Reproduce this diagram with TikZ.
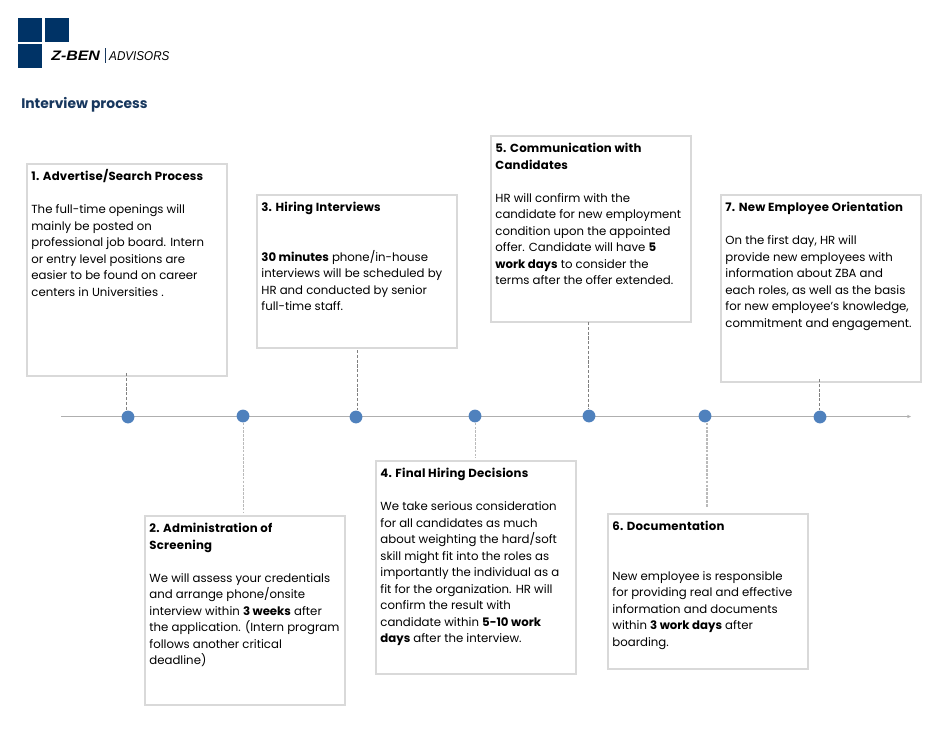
\documentclass[tikz,border=0pt]{standalone}
\usepackage{fontspec}
\usepackage{xcolor}
\setmainfont{Poppins}
\newfontfamily\logofont{Liberation Sans}
\usetikzlibrary{arrows.meta}
\definecolor{zbenBlue}{RGB}{0,51,102}
\definecolor{titleBlue}{RGB}{23,55,94}
\definecolor{dotBlue}{RGB}{79,129,189}
\definecolor{boxGray}{RGB}{217,217,217}
\definecolor{axisGray}{RGB}{175,175,175}
\newcommand{\boxhead}[1]{\textbf{\addfontfeature{LetterSpace=1.8}#1}}
\tikzset{
  stepbox/.style={draw=boxGray,line width=1.25pt,minimum width=150pt,anchor=north west,inner sep=0pt,xshift=-0.5pt,yshift=0.5pt},
  steptext/.style={anchor=north west,align=left,inner xsep=3.6pt,inner ysep=5.6pt,font=\fontsize{8.8}{12.4}\selectfont,text=black},
  stepdot/.style={circle,fill=dotBlue,minimum size=9.6pt,inner sep=0pt},
  leadup/.style={dash pattern=on 2.4pt off 1.2pt,draw=black!50,line width=0.45pt},
  leaddown/.style={dash pattern=on 2pt off 0.9pt,draw=black!27,line width=1pt},
  logosq/.style={fill=zbenBlue,minimum size=17.6pt,inner sep=0pt,anchor=north west},
}
\begin{document}
\begin{tikzpicture}[x=0.75pt,y=-0.75pt]
  \useasboundingbox (0,0) rectangle (944,728);
  % --- logo and heading ---------------------------------------------------
  \foreach \n/\x/\y in {a/18/18, b/45/18, c/18/44} {
     \node[logosq] (logo\n) at (\x,\y) {};
  }
  \node[anchor=west,inner sep=0pt,xscale=1.16,font={\logofont\fontsize{10.3}{10}\selectfont\bfseries\itshape}] (logoname) at (51,56) {Z-BEN};
  \node[anchor=west,inner sep=0pt,xscale=0.91,font={\logofont\fontsize{9.6}{10}\selectfont\itshape}] (logoadv) at (109,56) {ADVISORS};
  \draw[titleBlue,line width=0.4pt] (105.5,48) -- (105.5,63);
  \node[anchor=west,inner sep=0pt,text=titleBlue,font={\fontsize{10.4}{13}\selectfont\bfseries}] (heading) at (21,105) {Interview process};
  % --- the seven boxes ----------------------------------------------------
  \node[stepbox,minimum height=159pt] (box1) at (27,164) {};
  \node[stepbox,minimum height=141.7pt] (box2) at (145,516) {};
  \node[stepbox,minimum height=114.7pt] (box3) at (257,195) {};
  \node[stepbox,minimum height=159.7pt] (box4) at (376,461) {};
  \node[stepbox,minimum height=139.5pt] (box5) at (491,136) {};
  \node[stepbox,minimum height=116.2pt] (box6) at (608,514) {};
  \node[stepbox,minimum height=140.2pt] (box7) at (721,195) {};
  \node[steptext,yshift=1pt] (text1) at (box1.north west) {\boxhead{1. Advertise/Search Process}\\[12.3pt]
    The full-time openings will\\mainly be posted on\\professional job board. Intern\\or entry level positions are\\easier to be found on career\\centers in Universities .};
  \node[steptext] (text2) at (box2.north west) {\boxhead{2. Administration of}\\\boxhead{Screening}\\[12.4pt]
    We will assess your credentials\\and arrange phone/onsite\\interview within \textbf{3 weeks} after\\the application. (Intern program\\follows another critical\\deadline)};
  \node[steptext] (text3) at (box3.north west) {\boxhead{3. Hiring Interviews}\\[24.8pt]
    \textbf{30 minutes} phone/in-house\\interviews will be scheduled by\\HR and conducted by senior\\full-time staff.};
  \node[steptext] (text4) at (box4.north west) {\boxhead{4. Final Hiring Decisions}\\[12.4pt]
    We take serious consideration\\for all candidates as much\\about weighting the hard/soft\\skill might fit into the roles as\\importantly the individual as a\\fit for the organization. HR will\\confirm the result with\\candidate within \textbf{5-10 work}\\\textbf{days} after the interview.};
  \node[steptext] (text5) at (box5.north west) {\boxhead{5. Communication with}\\\boxhead{Candidates}\\[12.4pt]
    HR will confirm with the\\candidate for new employment\\condition upon the appointed\\offer. Candidate will have \textbf{5}\\\textbf{work days} to consider the\\terms after the offer extended.};
  \node[steptext] (text6) at (box6.north west) {\boxhead{6. Documentation}\\[24.8pt]
    New employee is responsible\\for providing real and effective\\information and documents\\within \textbf{3 work days} after\\boarding.};
  \node[steptext] (text7) at (box7.north west) {\boxhead{7. New Employee Orientation}\\[12.4pt]
    On the first day, HR will\\provide new employees with\\information about ZBA and\\each roles, as well as the basis\\for new employee's knowledge,\\commitment and engagement.};
  % --- timeline -----------------------------------------------------------
  \coordinate (axisL) at (61,416.5);
  \coordinate (axisR) at (911,416.5);
  \draw[axisGray,line width=0.7pt,-{Stealth[length=3pt,width=2.5pt]}] (axisL) -- (axisR);
  \foreach \n/\x/\y in {1/128/417, 2/243/416, 3/356/417, 4/475/416, 5/589/416, 6/705/416, 7/820/417} {
     \node[stepdot] (dot\n) at (\x,\y) {};
  }
  % --- leaders, upper row then lower row ----------------------------------
  \foreach \n/\x/\y in {1/126.5/373, 3/357/350, 5/588/322, 7/819.5/379} {
     \coordinate (lead\n) at (\x,\y);
     \draw[leadup] (lead\n) -- (lead\n |- dot\n.north);
  }
  \foreach \n/\x/\y in {2/243.5/512, 4/475.5/458, 6/707/507} {
     \coordinate (lead\n) at (\x,\y);
     \draw[leaddown] (lead\n |- dot\n.south) -- (lead\n);
  }
\end{tikzpicture}
\end{document}
